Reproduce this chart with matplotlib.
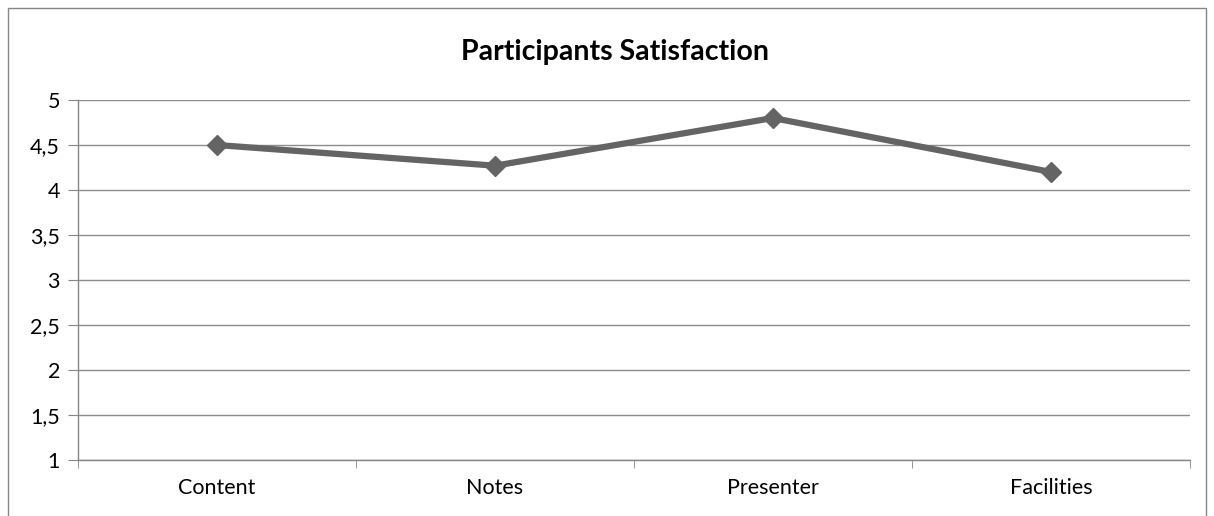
import matplotlib
matplotlib.use("Agg")
import matplotlib.pyplot as plt
from matplotlib.patches import Rectangle

categories = ["Content", "Notes", "Presenter", "Facilities"]
values = [4.5, 4.27, 4.8, 4.2]
yticks = [1, 1.5, 2, 2.5, 3, 3.5, 4, 4.5, 5]
ytick_labels = ["1", "1,5", "2", "2,5", "3", "3,5", "4", "4,5", "5"]

plt.rcParams['font.family'] = ['Lato', 'DejaVu Sans']

W, H = 1214, 516
fig = plt.figure(figsize=(W/100, H/100), dpi=100)
fig.patches.append(Rectangle((8/W, -0.1), (1206-8)/W, (H-8)/H + 0.1, transform=fig.transFigure,
                             fill=False, edgecolor='#868686', linewidth=1.0))

ax = fig.add_axes([78/W, (H-460)/H, (1190-78)/W, (460-100)/H])
x = list(range(len(categories)))
ax.plot(x, values, color='#646464', linewidth=4.5, marker='D', markersize=10,
        markerfacecolor='#646464', markeredgecolor='#646464', solid_joinstyle='round')
ax.set_xlim(-0.5, len(categories) - 0.5)
ax.set_ylim(1, 5)
ax.set_yticks(yticks)
ax.set_yticklabels(ytick_labels, fontsize=15.5)
ax.set_xticks(x)
ax.set_xticklabels(categories, fontsize=15.5)
ax.tick_params(axis='x', length=0, pad=13)
ax.set_xticks([i - 0.5 for i in range(len(categories) + 1)], minor=True)
ax.tick_params(axis='x', which='minor', length=6, color='#868686', direction='out')
ax.tick_params(axis='y', length=7, color='#868686', direction='out', pad=6)
ax.grid(axis='y', color='#8c8c8c', linewidth=1.0)
ax.set_axisbelow(True)
for s in ['top', 'right']:
    ax.spines[s].set_visible(False)
for s in ['left', 'bottom']:
    ax.spines[s].set_color('#868686')
    ax.spines[s].set_linewidth(1.0)

fig.text(615/W, 1 - 52/H, "Participants Satisfaction", ha='center', va='center',
         fontsize=20.5, fontweight='bold')

fig.savefig("out.png", dpi=100)
